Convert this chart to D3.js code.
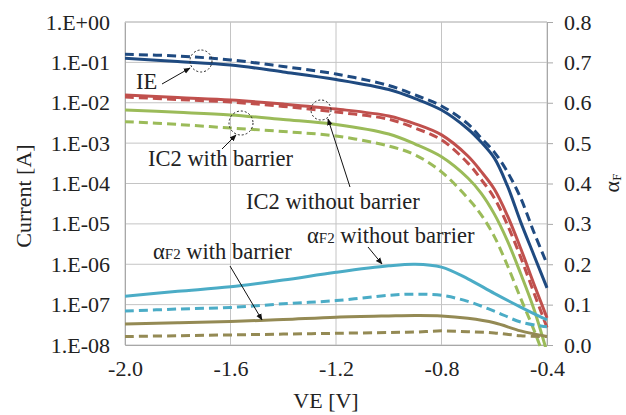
<!DOCTYPE html>
<html>
<head>
<meta charset="utf-8">
<script src="https://cdn.jsdelivr.net/npm/d3@7"></script>
<style>
  body { margin: 0; background: #fff; }
</style>
</head>
<body>
<svg id="chart" width="626" height="415" font-family="Liberation Serif"></svg>
<script>
// VE sweep points used for the current curves
const veCurrent = [-2.0, -1.8, -1.6, -1.4, -1.2, -1.0, -0.9, -0.8, -0.7, -0.65, -0.6, -0.55, -0.5, -0.45, -0.4];
// currents [A]
const ieSolid   = [1.26e-1, 1.05e-1, 8.6e-2, 5.8e-2, 3.77e-2, 2.13e-2, 1.27e-2, 6.6e-3, 2.24e-3, 1.07e-3, 4.3e-4, 8.7e-5, 1.12e-5, 1.7e-6, 2.6e-7];
const ieDashed  = [1.58e-1, 1.44e-1, 1.15e-1, 7.9e-2, 5.15e-2, 2.67e-2, 1.56e-2, 8.3e-3, 3.0e-3, 1.34e-3, 6.0e-4, 1.93e-4, 4.4e-5, 6.3e-6, 1.02e-6];
const ic2NoBarSolid  = [1.56e-2, 1.34e-2, 1.17e-2, 9.3e-3, 7.0e-3, 4.7e-3, 3.0e-3, 1.6e-3, 4.8e-4, 2.0e-4, 7.3e-5, 1.6e-5, 2.5e-6, 3.3e-7, 4.7e-8];
const ic2NoBarDashed = [1.39e-2, 1.2e-2, 1.04e-2, 8.1e-3, 5.9e-3, 3.9e-3, 2.36e-3, 1.2e-3, 3.2e-4, 1.27e-4, 4.4e-5, 9.4e-6, 1.5e-6, 2.0e-7, 2.7e-8];
const ic2BarSolid    = [6.6e-3, 5.8e-3, 5.0e-3, 3.85e-3, 2.9e-3, 1.68e-3, 9.5e-4, 4.6e-4, 1.37e-4, 5.8e-5, 1.77e-5, 3.8e-6, 5.9e-7, 7.9e-8, 6.6e-9];
const ic2BarDashed   = [3.4e-3, 2.9e-3, 2.37e-3, 1.94e-3, 1.5e-3, 8.5e-4, 5.1e-4, 1.94e-4, 4.3e-5, 1.7e-5, 4.9e-6, 9.3e-7, 1.44e-7, 2.4e-8, 3.2e-9];

// VE sweep points used for the alpha curves
const veAlpha = [-2.0, -1.8, -1.6, -1.4, -1.2, -1.0, -0.9, -0.8, -0.7, -0.6, -0.5, -0.4];
const aNoBarSolid  = [0.121, 0.133, 0.144, 0.161, 0.180, 0.196, 0.200, 0.193, 0.164, 0.128, 0.094, 0.062];
const aNoBarDashed = [0.084, 0.089, 0.093, 0.102, 0.110, 0.123, 0.126, 0.123, 0.108, 0.084, 0.057, 0.045];
const aBarSolid    = [0.052, 0.055, 0.058, 0.063, 0.069, 0.072, 0.073, 0.072, 0.066, 0.055, 0.035, 0.021];
const aBarDashed   = [0.021, 0.023, 0.025, 0.027, 0.029, 0.031, 0.032, 0.035, 0.033, 0.030, 0.023, 0.021];

const xTicks = [-2.0, -1.6, -1.2, -0.8, -0.4];
const leftTicks = [1, 1e-1, 1e-2, 1e-3, 1e-4, 1e-5, 1e-6, 1e-7, 1e-8];
const rightTicks = [0, 0.1, 0.2, 0.3, 0.4, 0.5, 0.6, 0.7, 0.8];

const mLeft = 125, mRight = 547, mTop = 22, mBottom = 345;
const FONT = "Liberation Serif";
const svg = d3.select("#chart");

const x = d3.scaleLinear().domain([-2.0, -0.4]).range([mLeft, mRight]);
const yL = d3.scaleLog().domain([1e-8, 1]).range([mBottom, mTop]);
const yR = d3.scaleLinear().domain([0, 0.8]).range([mBottom, mTop]);

const gridColor = "#c4c4c4";

// grid
svg.append("g").selectAll("line.h").data(leftTicks).enter().append("line")
  .attr("x1", mLeft).attr("x2", mRight)
  .attr("y1", d => yL(d)).attr("y2", d => yL(d))
  .attr("stroke", gridColor).attr("stroke-width", 1);
svg.append("g").selectAll("line.v").data(xTicks).enter().append("line")
  .attr("x1", d => x(d)).attr("x2", d => x(d))
  .attr("y1", mTop).attr("y2", mBottom)
  .attr("stroke", gridColor).attr("stroke-width", 1);

// axes
function expLabel(d) {
  const e = Math.round(Math.log10(d));
  return "1.E" + (e >= 0 ? "+" : "-") + String(Math.abs(e)).padStart(2, "0");
}
const gLeft = svg.append("g").attr("transform", `translate(${mLeft},0)`)
  .call(d3.axisLeft(yL).tickValues(leftTicks).tickFormat(expLabel).tickSize(0).tickPadding(15));
const gRight = svg.append("g").attr("transform", `translate(${mRight},0)`)
  .call(d3.axisRight(yR).tickValues(rightTicks).tickFormat(d3.format(".1f")).tickSize(6).tickPadding(12));
const gBottom = svg.append("g").attr("transform", `translate(0,${mBottom})`)
  .call(d3.axisBottom(x).tickValues(xTicks).tickFormat(d => d.toFixed(1)).tickSize(0).tickPadding(15));

[gLeft, gRight, gBottom].forEach(g => {
  g.attr("font-family", FONT).attr("font-size", 22);
  g.select(".domain").attr("stroke", "#a8a8a8");
  g.selectAll(".tick line").attr("stroke", "#a8a8a8");
  g.selectAll("text").attr("fill", "#222");
});
gRight.selectAll("text").attr("dx", -1);

// top border
svg.append("line").attr("x1", mLeft).attr("x2", mRight).attr("y1", mTop).attr("y2", mTop)
  .attr("stroke", gridColor);

// clip
svg.append("clipPath").attr("id", "plotClip").append("rect")
  .attr("x", mLeft).attr("y", mTop - 2).attr("width", mRight - mLeft + 2).attr("height", mBottom - mTop + 4);

const plot = svg.append("g").attr("clip-path", "url(#plotClip)");

const lineL = d3.line().x(d => x(d[0])).y(d => yL(d[1])).curve(d3.curveCatmullRom.alpha(0.5));
const lineR = d3.line().x(d => x(d[0])).y(d => yR(d[1])).curve(d3.curveCatmullRom.alpha(0.5));

const currentSeries = [
  { v: ieSolid, color: "#1f4a80", dash: null },
  { v: ieDashed, color: "#1f4a80", dash: "9,5" },
  { v: ic2NoBarSolid, color: "#c0504d", dash: null },
  { v: ic2NoBarDashed, color: "#c0504d", dash: "9,5" },
  { v: ic2BarSolid, color: "#9bbb59", dash: null },
  { v: ic2BarDashed, color: "#9bbb59", dash: "9,5" }
];
const alphaSeries = [
  { v: aNoBarSolid, color: "#4bacc6", dash: null },
  { v: aNoBarDashed, color: "#4bacc6", dash: "9,5" },
  { v: aBarSolid, color: "#948a54", dash: null },
  { v: aBarDashed, color: "#948a54", dash: "9,5" }
];

currentSeries.forEach(s => {
  plot.append("path")
    .datum(veCurrent.map((ve, i) => [ve, s.v[i]]))
    .attr("d", lineL)
    .attr("fill", "none").attr("stroke", s.color).attr("stroke-width", 3)
    .attr("stroke-dasharray", s.dash);
});
alphaSeries.forEach(s => {
  plot.append("path")
    .datum(veAlpha.map((ve, i) => [ve, s.v[i]]))
    .attr("d", lineR)
    .attr("fill", "none").attr("stroke", s.color).attr("stroke-width", 3)
    .attr("stroke-dasharray", s.dash);
});

// axis titles
svg.append("text").attr("transform", "translate(31,196) rotate(-90)")
  .attr("font-family", FONT).attr("fill", "#222")
  .attr("text-anchor", "middle").attr("font-size", 22).text("Current [A]");
svg.append("text").attr("x", 326).attr("y", 408)
  .attr("font-family", FONT).attr("fill", "#222")
  .attr("text-anchor", "middle").attr("font-size", 22).text("VE [V]");
const aTitle = svg.append("text").attr("transform", "translate(619,183) rotate(-90)")
  .attr("font-family", FONT).attr("fill", "#222")
  .attr("text-anchor", "middle").attr("font-size", 22);
aTitle.append("tspan").text("α");
aTitle.append("tspan").attr("font-size", 13).attr("dy", 2).text("F");

// annotations
const defs = svg.append("defs");
defs.append("marker").attr("id", "arrow").attr("viewBox", "0 0 10 10")
  .attr("refX", 9).attr("refY", 5).attr("markerWidth", 7).attr("markerHeight", 7)
  .attr("markerUnits", "userSpaceOnUse").attr("orient", "auto")
  .append("path").attr("d", "M0,1 L10,5 L0,9 Z").attr("fill", "#111");

function arrow(x1, y1, x2, y2) {
  svg.append("line").attr("x1", x1).attr("y1", y1).attr("x2", x2).attr("y2", y2)
    .attr("stroke", "#111").attr("stroke-width", 1).attr("marker-end", "url(#arrow)");
}
function ring(cx, cy, r) {
  svg.append("circle").attr("cx", cx).attr("cy", cy).attr("r", r)
    .attr("fill", "none").attr("stroke", "#222").attr("stroke-width", 1)
    .attr("stroke-dasharray", "2,2");
}
function label(tx, ty, parts) {
  const t = svg.append("text").attr("x", tx).attr("y", ty)
    .attr("font-family", FONT).attr("fill", "#222").attr("font-size", 22.5);
  parts.forEach(p => {
    const s = t.append("tspan").text(p.t);
    if (p.small) s.attr("font-size", 15);
  });
  return t;
}

ring(201, 61, 11);
label(136, 89, [{ t: "IE" }]);
arrow(162, 84, 190, 68);

ring(241, 123, 12);
label(148, 166, [{ t: "IC2 with barrier" }]);
arrow(222, 149, 236, 135);

ring(321, 110, 10);
label(246, 209, [{ t: "IC2 without barrier" }]);
arrow(350, 187, 328, 119);

label(153, 259, [{ t: "α" }, { t: "F2", small: true }, { t: " with barrier" }]);
arrow(230, 266, 262, 320);

label(307, 243, [{ t: "α" }, { t: "F2", small: true }, { t: " without barrier" }]);
arrow(368, 247, 382, 264);
</script>
</body>
</html>
